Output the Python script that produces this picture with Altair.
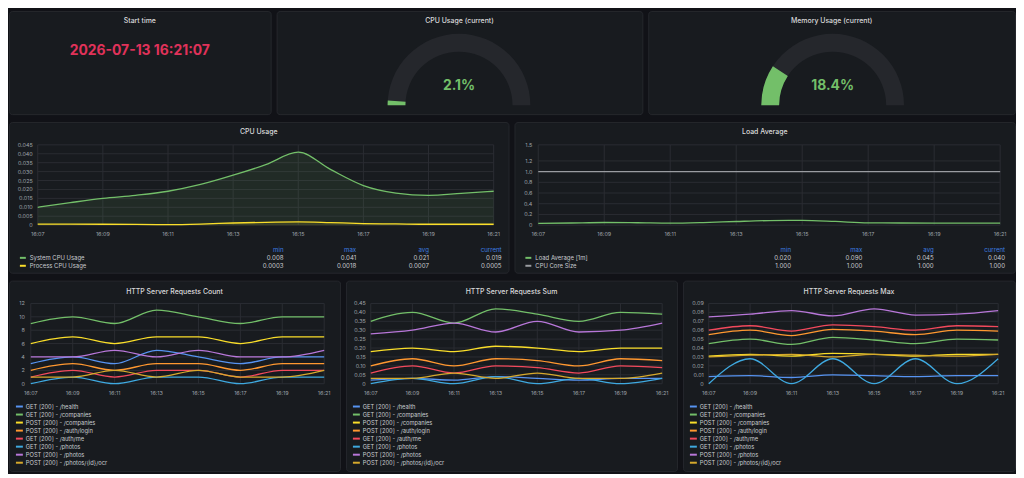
import altair as alt
import pandas as pd

FONT = "Inter"
BG = "#111217"
PANEL = "#181b1f"
BORDER = "#25272d"
TITLE_C = "#d8d9da"
TICK_C = "#9fa3aa"
LEGEND_C = "#c9cbd0"
GRID_C = "#2a2d33"
HEAD_C = "#3d7ee0"
GREEN = "#73bf69"
TRACK_C = "#25272c"
RED = "#e0325a"

# ---------------- top row ----------------
start_title = "Start time"
start_value = "2026-07-13 16:21:07"
gauge_titles = ["CPU Usage (current)", "Memory Usage (current)"]
gauge_values = [2.1, 18.4]
gauge_labels = ["2.1%", "18.4%"]

# ---------------- time axes ----------------
minute_times = ["16:07", "16:08", "16:09", "16:10", "16:11", "16:12", "16:13", "16:14",
                "16:15", "16:16", "16:17", "16:18", "16:19", "16:20", "16:21"]
tick_times = ["16:07", "16:09", "16:11", "16:13", "16:15", "16:17", "16:19", "16:21"]
stat_names = ["min", "max", "avg", "current"]

# ---------------- CPU usage ----------------
cpu_title = "CPU Usage"
cpu_series = ["System CPU Usage", "Process CPU Usage"]
cpu_colors = ["#73bf69", "#fade2a"]
cpu_system = [0.010, 0.0126, 0.015, 0.0167, 0.019, 0.0228, 0.028, 0.0339,
              0.0409, 0.0311, 0.0222, 0.018, 0.0167, 0.0178, 0.019]
cpu_process = [0.0006, 0.0006, 0.0005, 0.0004, 0.0003, 0.0006, 0.0012, 0.0016,
               0.0018, 0.0014, 0.0009, 0.0007, 0.0005, 0.0005, 0.0005]
cpu_y_ticks = [0, 0.005, 0.010, 0.015, 0.020, 0.025, 0.030, 0.035, 0.040, 0.045]
cpu_y_labels = ["0", "0.005", "0.010", "0.015", "0.020", "0.025", "0.030", "0.035", "0.040", "0.045"]
cpu_stats = [["0.008", "0.041", "0.021", "0.019"], ["0.0003", "0.0018", "0.0007", "0.0005"]]

# ---------------- Load average ----------------
load_title = "Load Average"
load_series = ["Load Average [1m]", "CPU Core Size"]
load_colors = ["#73bf69", "#9a9ca1"]
load_1m = [0.031, 0.040, 0.049, 0.045, 0.037, 0.048, 0.068, 0.085,
           0.090, 0.070, 0.043, 0.040, 0.037, 0.038, 0.038]
load_cores = [1.0, 1.0, 1.0, 1.0, 1.0, 1.0, 1.0, 1.0, 1.0, 1.0, 1.0, 1.0, 1.0, 1.0, 1.0]
load_y_ticks = [0, 0.2, 0.4, 0.6, 0.8, 1.0, 1.2, 1.5]
load_y_labels = ["0", "0.2", "0.4", "0.6", "0.8", "1.0", "1.2", "1.5"]
load_stats = [["0.020", "0.090", "0.045", "0.040"], ["1.000", "1.000", "1.000", "1.000"]]

# ---------------- HTTP ----------------
http_series = ["GET [200] - /health", "GET [200] - /companies", "POST [200] - /companies",
               "POST [200] - /auth/login", "GET [200] - /auth/me", "GET [200] - /photos",
               "POST [200] - /photos", "POST [200] - /photos/{id}/ocr"]
http_colors = ["#5794f2", "#73bf69", "#fade2a", "#ff9830", "#f2495c", "#3fa9e0", "#b877d9", "#d6a92c"]

count_title = "HTTP Server Requests Count"
count_values = [
    [3, 4, 3, 5, 4, 3, 4, 4],
    [9, 10, 9, 11, 10, 9, 10, 10],
    [6, 7, 6, 7, 7, 6, 7, 7],
    [2, 3, 2, 3, 3, 2, 3, 3],
    [1, 2, 1, 2, 2, 1, 2, 2],
    [0, 1, 0, 1, 1, 0, 1, 1],
    [4, 4, 5, 4, 5, 4, 4, 5],
    [1, 1, 2, 1, 2, 1, 1, 2],
]
count_y_ticks = [0, 2, 4, 6, 8, 10, 12]
count_y_labels = ["0", "2", "4", "6", "8", "10", "12"]

sum_title = "HTTP Server Requests Sum"
sum_values = [
    [0.02, 0.03, 0.02, 0.04, 0.03, 0.02, 0.03, 0.03],
    [0.35, 0.40, 0.34, 0.42, 0.39, 0.35, 0.40, 0.39],
    [0.18, 0.20, 0.18, 0.21, 0.20, 0.18, 0.20, 0.20],
    [0.10, 0.14, 0.10, 0.14, 0.13, 0.10, 0.14, 0.13],
    [0.06, 0.10, 0.06, 0.10, 0.09, 0.06, 0.10, 0.09],
    [0.00, 0.03, 0.00, 0.04, 0.00, 0.03, 0.00, 0.03],
    [0.28, 0.30, 0.34, 0.29, 0.35, 0.29, 0.30, 0.34],
    [0.03, 0.03, 0.06, 0.03, 0.06, 0.03, 0.03, 0.06],
]
sum_y_ticks = [0, 0.05, 0.10, 0.15, 0.20, 0.25, 0.30, 0.35, 0.40, 0.45]
sum_y_labels = ["0", "0.05", "0.10", "0.15", "0.20", "0.25", "0.30", "0.35", "0.40", "0.45"]

max_title = "HTTP Server Requests Max"
max_values = [
    [0.008, 0.009, 0.007, 0.010, 0.009, 0.008, 0.009, 0.009],
    [0.045, 0.050, 0.044, 0.052, 0.049, 0.045, 0.050, 0.049],
    [0.031, 0.033, 0.031, 0.034, 0.033, 0.031, 0.033, 0.033],
    [0.055, 0.060, 0.054, 0.061, 0.059, 0.055, 0.060, 0.059],
    [0.060, 0.065, 0.059, 0.066, 0.064, 0.060, 0.065, 0.064],
    [0.000, 0.028, 0.000, 0.028, 0.000, 0.028, 0.000, 0.028],
    [0.075, 0.078, 0.082, 0.076, 0.084, 0.077, 0.078, 0.082],
    [0.030, 0.032, 0.033, 0.030, 0.033, 0.032, 0.031, 0.033],
]
max_y_ticks = [0, 0.01, 0.02, 0.03, 0.04, 0.05, 0.06, 0.07, 0.08, 0.09]
max_y_labels = ["0", "0.01", "0.02", "0.03", "0.04", "0.05", "0.06", "0.07", "0.08", "0.09"]


def tmin(s):
    h, m = s.split(":")
    return int(h) * 60 + int(m)


def text_layer(txt, x, y, size, color, weight="normal", align="center"):
    return alt.Chart(pd.DataFrame({"txt": [txt]})).mark_text(
        font=FONT, fontSize=size, color=color, fontWeight=weight, align=align, baseline="middle"
    ).encode(text="txt:N", x=alt.value(x), y=alt.value(y))


def ts_panel(w, h, title, times, names, colors, values, y_ticks, y_labels, lay,
             fill=False, stats=None):
    L, R, T, B = lay["box"]
    xs = alt.Scale(domain=[tmin(tick_times[0]), tmin(tick_times[-1])], range=[L, R], nice=False, zero=False)
    ys = alt.Scale(domain=[y_ticks[0], y_ticks[-1]], range=[B, T], nice=False, zero=False)
    cs = alt.Scale(domain=names, range=colors)
    recs = []
    for i, (n, vals) in enumerate(zip(names, values)):
        for t, v in zip(times, vals):
            recs.append({"m": tmin(t), "v": v, "s": n, "o": i})
    df = pd.DataFrame(recs)
    gy = pd.DataFrame({"v": y_ticks, "lab": y_labels})
    gx = pd.DataFrame({"m": [tmin(t) for t in tick_times], "lab": tick_times})
    X = alt.X("m:Q", scale=xs, axis=None)
    Y = alt.Y("v:Q", scale=ys, axis=None, stack=None)
    C = alt.Color("s:N", scale=cs, legend=None)

    layers = [
        alt.Chart(gy).mark_rule(color=GRID_C, strokeWidth=1).encode(y=Y, x=alt.value(L), x2=alt.value(R)),
        alt.Chart(gx).mark_rule(color=GRID_C, strokeWidth=1).encode(x=X, y=alt.value(T), y2=alt.value(B)),
        alt.Chart(gy).mark_text(font=FONT, fontSize=5.5, color=TICK_C, align="right", baseline="middle")
        .encode(y=Y, x=alt.value(lay["ylab_x"]), text="lab:N"),
        alt.Chart(gx).mark_text(font=FONT, fontSize=5.5, color=TICK_C, align="center", baseline="middle")
        .encode(x=X, y=alt.value(B + 9), text="lab:N"),
    ]
    if fill:
        layers.append(alt.Chart(df).mark_area(opacity=0.1, interpolate="monotone")
                      .encode(x=X, y=Y, color=C, detail="s:N"))
    layers.append(alt.Chart(df).mark_line(strokeWidth=1.3, interpolate="monotone")
                  .encode(x=X, y=Y, color=C, order="m:Q"))
    plot = alt.layer(*layers)

    n = len(names)
    y0, dy = lay["leg_y0"], lay["leg_dy"]
    Ry = alt.Y("r:Q", scale=alt.Scale(domain=[0, n - 1], range=[y0, y0 + dy * (n - 1)], nice=False, zero=False),
               axis=None)
    nl = pd.DataFrame({"s": names, "r": list(range(n))})
    lx = lay["leg_x"]
    guides = [
        text_layer(title, w / 2, lay["title_y"], 7, TITLE_C, weight=500),
        alt.Chart(nl).mark_rule(strokeWidth=2).encode(
            y=Ry, x=alt.value(lx), x2=alt.value(lx + lay["sym_len"]), color=C),
        alt.Chart(nl).mark_text(font=FONT, fontSize=lay["leg_size"], color=LEGEND_C, align="left",
                                baseline="middle").encode(y=Ry, x=alt.value(lx + lay["text_gap"]), text="s:N"),
    ]
    if stats is not None:
        cx = alt.X("c:Q", scale=alt.Scale(domain=[0, 3], range=lay["stat_x"], nice=False, zero=False), axis=None)
        head = pd.DataFrame({"c": list(range(4)), "r": [-1] * 4, "txt": stat_names})
        srec = []
        for i, row in enumerate(stats):
            for j, val in enumerate(row):
                srec.append({"c": j, "r": i, "txt": val})
        sdf = pd.DataFrame(srec)
        guides.append(alt.Chart(head).mark_text(font=FONT, fontSize=6.2, color=HEAD_C, align="right",
                                                baseline="middle").encode(x=cx, y=Ry, text="txt:N"))
        guides.append(alt.Chart(sdf).mark_text(font=FONT, fontSize=6.2, color=LEGEND_C, align="right",
                                               baseline="middle").encode(x=cx, y=Ry, text="txt:N"))
    guide = alt.layer(*guides)
    return alt.layer(plot, guide).resolve_scale(x="independent", y="independent").properties(width=w, height=h)


def gauge_panel(w, h, title, value, label, cx, cy):
    th = alt.Theta("a:Q", scale=alt.Scale(domain=[0, 100], range=[4.71238898, 7.85398163]), stack=None)
    track = alt.Chart(pd.DataFrame({"a": [0], "b": [100]})).mark_arc(
        radius=72, radius2=54, color=TRACK_C).encode(theta=th, theta2="b:Q", x=alt.value(cx), y=alt.value(cy))
    val = alt.Chart(pd.DataFrame({"a": [0], "b": [value]})).mark_arc(
        radius=72, radius2=54, color=GREEN).encode(theta=th, theta2="b:Q", x=alt.value(cx), y=alt.value(cy))
    return alt.layer(
        track, val,
        text_layer(label, cx, 76, 14, GREEN, weight="bold"),
        text_layer(title, w / 2, 10, 7, TITLE_C, weight=500),
    ).properties(width=w, height=h)


start_panel = alt.layer(
    text_layer(start_title, 132, 10, 7, TITLE_C, weight=500),
    text_layer(start_value, 132, 40, 14, RED, weight="bold"),
).properties(width=264, height=104)

cpu_gauge = gauge_panel(369, 104, gauge_titles[0], gauge_values[0], gauge_labels[0], 184, 95)
mem_gauge = gauge_panel(370, 104, gauge_titles[1], gauge_values[1], gauge_labels[1], 186, 95)

cpu_layout = {"box": (29, 489, 23, 104), "ylab_x": 24, "title_y": 10, "leg_x": 11, "sym_len": 6,
              "text_gap": 10, "leg_y0": 137, "leg_dy": 8, "leg_size": 6, "stat_x": [277, 497]}
load_layout = {"box": (24, 490, 23, 104), "ylab_x": 18, "title_y": 10, "leg_x": 11, "sym_len": 6,
               "text_gap": 10, "leg_y0": 137, "leg_dy": 8, "leg_size": 6, "stat_x": [279, 495]}

cpu_panel = ts_panel(504, 152, cpu_title, minute_times, cpu_series, cpu_colors,
                     [cpu_system, cpu_process], cpu_y_ticks, cpu_y_labels, cpu_layout,
                     fill=True, stats=cpu_stats)
load_panel = ts_panel(505, 152, load_title, minute_times, load_series, load_colors,
                      [load_1m, load_cores], load_y_ticks, load_y_labels, load_layout,
                      fill=False, stats=load_stats)


def http_layout(L, R, ylab_x):
    return {"box": (L, R, 23, 104), "ylab_x": ylab_x, "title_y": 11, "leg_x": 7, "sym_len": 7,
            "text_gap": 10, "leg_y0": 127, "leg_dy": 8.1, "leg_size": 5.8}


count_panel = ts_panel(334, 192, count_title, tick_times, http_series, http_colors, count_values,
                       count_y_ticks, count_y_labels, http_layout(22, 318, 16))
sum_panel = ts_panel(334, 192, sum_title, tick_times, http_series, http_colors, sum_values,
                     sum_y_ticks, sum_y_labels, http_layout(25, 319, 20))
max_panel = ts_panel(335, 192, max_title, tick_times, http_series, http_colors, max_values,
                     max_y_ticks, max_y_labels, http_layout(26, 318, 21))

res = dict(x="independent", y="independent", color="independent", theta="independent")
row1 = alt.hconcat(start_panel, cpu_gauge, mem_gauge, spacing=6, bounds="flush").resolve_scale(**res)
row2 = alt.hconcat(cpu_panel, load_panel, spacing=6, bounds="flush").resolve_scale(**res)
row3 = alt.hconcat(count_panel, sum_panel, max_panel, spacing=6, bounds="flush").resolve_scale(**res)

chart = alt.vconcat(row1, row2, row3, spacing=6).resolve_scale(**res).properties(
    background=BG, padding=0
).configure_view(fill=PANEL, stroke=BORDER, strokeWidth=1, cornerRadius=3)

chart.save("out.html", embed_options={"renderer": "svg", "actions": False})
